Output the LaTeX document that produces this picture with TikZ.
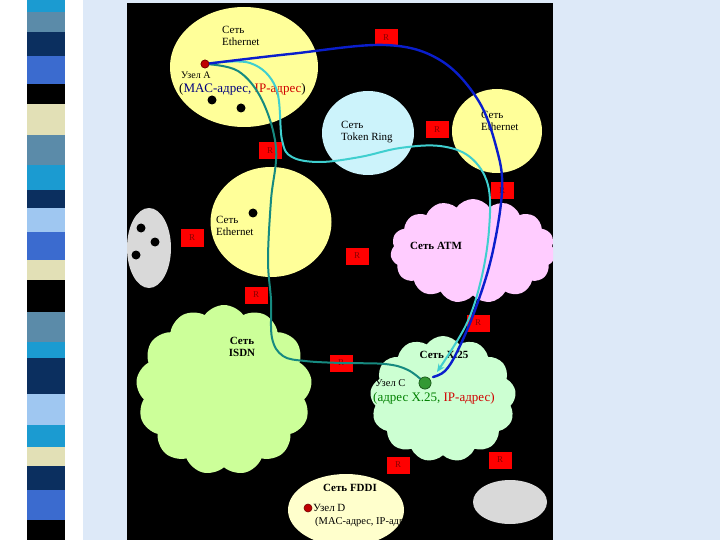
\documentclass[tikz,border=0pt]{standalone}
\usepackage{fontspec}
\setmainfont{Liberation Serif}
\usetikzlibrary{arrows.meta,shapes.geometric,shapes.symbols}
\definecolor{slideblue} {HTML}{DDE9F8}
\definecolor{stripcyan} {HTML}{1B9BD1}
\definecolor{stripsteel}{HTML}{5B8BA9}
\definecolor{stripnavy} {HTML}{0B2F5F}
\definecolor{stripblue} {HTML}{3B6BCF}
\definecolor{stripbeige}{HTML}{E2E0B6}
\definecolor{stripsky}  {HTML}{9FC7F1}
\definecolor{ethyellow} {HTML}{FFFF99}
\definecolor{ringcyan}  {HTML}{CCF3FB}
\definecolor{atmpink}   {HTML}{FFCCFF}
\definecolor{isdngreen} {HTML}{CCFF99}
\definecolor{xmint}     {HTML}{CCFFD2}
\definecolor{fddicream} {HTML}{FFFFCC}
\definecolor{hostgrey}  {HTML}{D9D9D9}
\definecolor{routerred} {HTML}{FF0000}
\definecolor{routerink} {HTML}{8A0000}
\definecolor{pathblue}  {HTML}{0A1ECC}
\definecolor{pathteal}  {HTML}{168A80}
\definecolor{pathcyan}  {HTML}{3FCFCF}
\definecolor{macblue}   {HTML}{000080}
\definecolor{ipred}     {HTML}{D00000}
\definecolor{xgreen}    {HTML}{008000}
\tikzset{
  netlabel/.style={align=left,anchor=west,inner sep=0,font=\fontsize{11}{12.5}\selectfont},
  cloudlabel/.style={align=center,inner sep=0,font=\bfseries\fontsize{11}{12.5}\selectfont},
  hostlabel/.style={anchor=west,inner sep=0,font=\fontsize{10}{12}\selectfont},
  addrlabel/.style={anchor=west,inner sep=0,font=\fontsize{13}{15}\selectfont},
  router/.style={fill=routerred,minimum width=23,minimum height=17,inner sep=0,
    font=\fontsize{9}{10}\selectfont,text=routerink},
  blackdot/.style={circle,fill=black,minimum size=9,inner sep=0},
  host/.style={circle,fill=#1,draw=#1!60!black,line width=0.6pt,minimum size=8,inner sep=0},
  netoval/.style={ellipse,fill=#1,inner sep=0},
  netcloud/.style={cloud,cloud puffs=13,cloud puff arc=110,fill=#1,inner sep=0},
  route/.style={line width=#1,line cap=round,line join=round},
}
\begin{document}
\begin{tikzpicture}[x=1pt,y=-1pt]
  \useasboundingbox (0,0) rectangle (720,540);
  % slide template
  \fill[white] (0,0) rectangle (83,540);
  \fill[slideblue] (83,0) rectangle (720,540);
  \foreach \ya/\yb/\col in {0/12/stripcyan,12/32/stripsteel,32/56/stripnavy,56/84/stripblue,
      84/104/black,104/135/stripbeige,135/165/stripsteel,165/190/stripcyan,190/208/stripnavy,
      208/232/stripsky,232/260/stripblue,260/280/stripbeige,280/312/black,312/342/stripsteel,
      342/358/stripcyan,358/394/stripnavy,394/425/stripsky,425/447/stripcyan,447/466/stripbeige,
      466/490/stripnavy,490/520/stripblue,520/540/black} {
    \fill[\col] (27,\ya) rectangle (65,\yb);
  }
  \fill[black] (127,3) rectangle (553,540);

  \begin{scope}
    \clip (127,3) rectangle (553,540);
    % networks
    \node[netoval=ethyellow,minimum width=148,minimum height=120] (ethA) at (244,67) {};
    \node[netoval=ringcyan,minimum width=92,minimum height=84] (ring) at (368,133) {};
    \node[netoval=ethyellow,minimum width=90,minimum height=84] (ethR) at (497,131) {};
    \node[netoval=ethyellow,minimum width=121,minimum height=110] (ethM) at (271,222) {};
    \node[netoval=hostgrey,minimum width=44,minimum height=80] (greyL) at (149,248) {};
    \node[netcloud=atmpink,cloud puffs=15,minimum width=165,minimum height=104] (atm) at (473,251) {};
    \node[netcloud=isdngreen,minimum width=176,minimum height=170] (isdn) at (224,390) {};
    \node[netcloud=xmint,minimum width=146,minimum height=126] (xnet) at (443,399) {};
    \node[netoval=fddicream,minimum width=116,minimum height=72] (fddi) at (346,510) {};
    \node[netoval=hostgrey,minimum width=74,minimum height=44] (greyR) at (510,502) {};

    % labels
    \node[netlabel] (ethAlab) at (222,36) {Сеть\\Ethernet};
    \node[netlabel] (ringlab) at (341,132) {Сеть\\Token Ring};
    \node[netlabel] (ethRlab) at (481,121) {Сеть\\Ethernet};
    \node[netlabel] (ethMlab) at (216,226) {Сеть\\Ethernet};
    \node[cloudlabel] (atmlab) at (436,246) {Сеть ATM};
    \node[cloudlabel] (isdnlab) at (242,347) {Сеть\\ISDN};
    \node[cloudlabel] (xlab) at (444,355) {Сеть X.25};
    \node[cloudlabel] (fddilab) at (350,488) {Сеть FDDI};
    \node[hostlabel] (Alab) at (181,75) {Узел А};
    \node[addrlabel] (Aaddr) at (179,89) {(\textcolor{macblue}{MAC-адрес,} \textcolor{ipred}{IP-адрес})};
    \node[hostlabel,font=\fontsize{10.5}{12}\selectfont] (Clab) at (375,383) {Узел С};
    \node[addrlabel] (Caddr) at (373,398) {\textcolor{xgreen}{(адрес X.25,} \textcolor{ipred}{IP-адрес)}};
    \node[hostlabel,font=\fontsize{11}{12}\selectfont] (Dlab) at (313,508) {Узел D};
    \begin{scope}
      \clip (300,512) rectangle (401,535);
      \node[hostlabel,font=\fontsize{10.5}{12}\selectfont] (Daddr) at (315,522) {(MAC-адрес, IP-адрес)};
    \end{scope}

    % workstations
    \node[blackdot] (wa1) at (212,100) {};
    \node[blackdot] (wa2) at (241,108) {};
    \node[blackdot] (wm1) at (253,213) {};
    \node[blackdot] (wg1) at (141,228) {};
    \node[blackdot] (wg2) at (155,242) {};
    \node[blackdot] (wg3) at (136,255) {};

    % routers
    \node[router] (R1) at (386,38) {R};
    \node[router] (R2) at (437,130) {R};
    \node[router] (R3) at (270,151) {R};
    \node[router] (R4) at (502,191) {R};
    \node[router] (R5) at (192,238) {R};
    \node[router] (R6) at (357,256) {R};
    \node[router] (R7) at (256,295) {R};
    \node[router] (R8) at (478,323) {R};
    \node[router] (R9) at (341,363) {R};
    \node[router] (R10) at (398,465) {R};
    \node[router] (R11) at (500,460) {R};

    % hosts
    \node[host=red!75!black] (A) at (205,64) {};
    \node[host=xgreen!80!white,minimum size=12] (C) at (425,383) {};
    \node[host=red!75!black] (D) at (308,508) {};
    \coordinate (bend) at (433,377);
    \coordinate (cend) at (437,372);

    % routes from A to C
    \draw[route=2pt,pathteal] plot[smooth,tension=0.6] coordinates {(A.center) (238,71) (262,100)
      (276,148) (271,200) (268,260) (271,300) (272,338) (283,356) (305,361) (R9.center)
      (385,364) (408,370) (C.center)};
    \draw[route=2pt,pathcyan,-{Stealth[length=8pt,width=7pt]}] plot[smooth,tension=0.6]
      coordinates {(A.center) (250,63) (276,88) (282,140) (292,157) (320,162) (360,157)
      (400,148) (440,146) (470,157) (488,185) (489,230) (481,280) (466,325) (cend)};
    \draw[route=2.4pt,pathblue] plot[smooth,tension=0.6] coordinates {(A.center) (290,54)
      (385,45) (440,60) (478,100) (497,150) (R4.center) (492,255) (475,310) (457,352)
      (445,371) (bend)};

    \node[host=red!75!black] at (A) {};
    \node[host=xgreen!80!white,minimum size=12] at (C) {};
  \end{scope}
\end{tikzpicture}
\end{document}
